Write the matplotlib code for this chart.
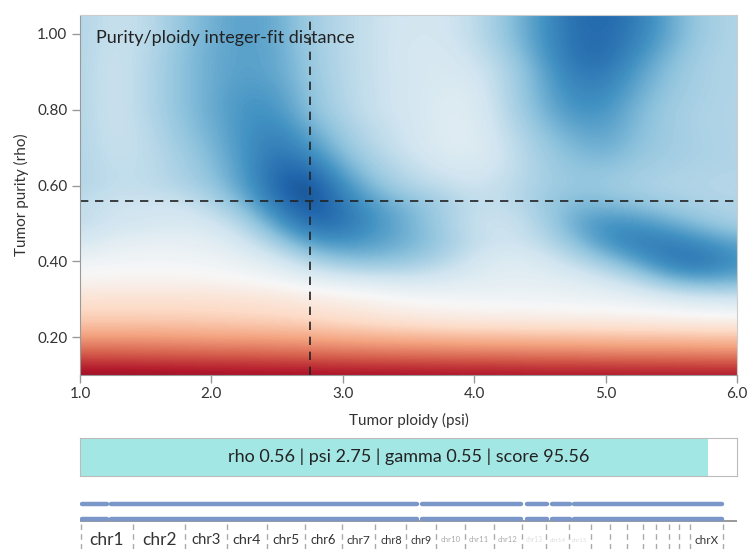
import matplotlib
matplotlib.use("Agg")
import matplotlib.pyplot as plt
import numpy as np

plt.rcParams["font.family"] = ["Lato", "DejaVu Sans"]

# ---------------------------------------------------------------------------
# Data
# ---------------------------------------------------------------------------

# grid of the purity/ploidy search
PSI = np.arange(1.0, 6.0001, 0.25)          # 21 columns
RHO = np.arange(1.05, 0.0999, -0.05)        # 20 rows, top to bottom

# integer-fit distance score (scaled, >0 blue = good fit, <0 red)
FIT = np.array([
    # 1.0  1.25  1.5  1.75  2.0  2.25  2.5  2.75  3.0  3.25  3.5  3.75  4.0  4.25  4.5  4.75  5.0  5.25  5.5  5.75  6.0
    [0.30, 0.22, 0.25, 0.38, 0.48, 0.55, 0.50, 0.35, 0.28, 0.22, 0.18, 0.18, 0.25, 0.40, 0.58, 0.76, 0.80, 0.70, 0.50, 0.35, 0.30],  # 1.05
    [0.30, 0.22, 0.25, 0.38, 0.48, 0.55, 0.50, 0.35, 0.28, 0.22, 0.18, 0.18, 0.25, 0.40, 0.58, 0.75, 0.78, 0.68, 0.50, 0.35, 0.30],  # 1.00
    [0.30, 0.21, 0.27, 0.40, 0.50, 0.55, 0.52, 0.37, 0.28, 0.22, 0.17, 0.16, 0.22, 0.35, 0.55, 0.75, 0.78, 0.62, 0.45, 0.33, 0.30],  # 0.95
    [0.30, 0.20, 0.28, 0.40, 0.50, 0.55, 0.52, 0.38, 0.28, 0.22, 0.18, 0.15, 0.18, 0.30, 0.50, 0.70, 0.72, 0.55, 0.40, 0.32, 0.30],  # 0.90
    [0.30, 0.20, 0.28, 0.40, 0.50, 0.58, 0.56, 0.40, 0.29, 0.22, 0.18, 0.14, 0.14, 0.30, 0.48, 0.65, 0.66, 0.50, 0.38, 0.32, 0.30],  # 0.85
    [0.30, 0.20, 0.28, 0.40, 0.50, 0.60, 0.60, 0.42, 0.30, 0.22, 0.18, 0.13, 0.13, 0.28, 0.45, 0.60, 0.60, 0.45, 0.35, 0.31, 0.30],  # 0.80
    [0.30, 0.21, 0.26, 0.38, 0.48, 0.60, 0.66, 0.50, 0.35, 0.25, 0.19, 0.13, 0.12, 0.25, 0.40, 0.52, 0.55, 0.43, 0.35, 0.31, 0.30],  # 0.75
    [0.30, 0.22, 0.25, 0.35, 0.45, 0.60, 0.72, 0.60, 0.40, 0.28, 0.20, 0.13, 0.12, 0.22, 0.35, 0.45, 0.50, 0.40, 0.35, 0.32, 0.30],  # 0.70
    [0.30, 0.24, 0.25, 0.32, 0.42, 0.58, 0.78, 0.75, 0.50, 0.34, 0.25, 0.18, 0.15, 0.22, 0.33, 0.40, 0.42, 0.36, 0.33, 0.31, 0.30],  # 0.65
    [0.30, 0.25, 0.25, 0.30, 0.38, 0.55, 0.80, 0.90, 0.62, 0.42, 0.30, 0.25, 0.20, 0.25, 0.33, 0.38, 0.36, 0.32, 0.30, 0.29, 0.28],  # 0.60
    [0.25, 0.20, 0.20, 0.20, 0.28, 0.45, 0.72, 0.88, 0.72, 0.55, 0.45, 0.35, 0.25, 0.25, 0.35, 0.45, 0.45, 0.40, 0.35, 0.32, 0.30],  # 0.55
    [0.25, 0.20, 0.18, 0.15, 0.18, 0.30, 0.55, 0.78, 0.75, 0.60, 0.48, 0.35, 0.22, 0.20, 0.30, 0.50, 0.62, 0.60, 0.50, 0.40, 0.32],  # 0.50
    [0.18, 0.10, 0.08, 0.08, 0.10, 0.18, 0.35, 0.55, 0.60, 0.55, 0.48, 0.38, 0.25, 0.20, 0.25, 0.40, 0.60, 0.70, 0.70, 0.62, 0.52],  # 0.45
    [0.05, 0.03, 0.03, 0.03, 0.04, 0.08, 0.15, 0.30, 0.40, 0.42, 0.38, 0.30, 0.18, 0.12, 0.15, 0.25, 0.38, 0.55, 0.72, 0.75, 0.62],  # 0.40
    [-0.02, -0.03, -0.03, -0.03, -0.02, 0.00, 0.03, 0.08, 0.12, 0.15, 0.18, 0.15, 0.12, 0.10, 0.10, 0.12, 0.18, 0.28, 0.45, 0.52, 0.48],  # 0.35
    [-0.15, -0.15, -0.15, -0.15, -0.15, -0.14, -0.12, -0.09, -0.06, -0.03, 0.00, 0.02, 0.03, 0.04, 0.04, 0.05, 0.06, 0.08, 0.12, 0.16, 0.18],  # 0.30
    [-0.24, -0.24, -0.24, -0.24, -0.23, -0.22, -0.21, -0.19, -0.16, -0.13, -0.10, -0.08, -0.07, -0.06, -0.06, -0.05, -0.05, -0.04, -0.03, -0.02, -0.02],  # 0.25
    [-0.42, -0.42, -0.42, -0.41, -0.40, -0.40, -0.39, -0.38, -0.36, -0.35, -0.34, -0.33, -0.32, -0.32, -0.31, -0.31, -0.30, -0.30, -0.30, -0.29, -0.29],  # 0.20
    [-0.63, -0.63, -0.62, -0.62, -0.61, -0.61, -0.60, -0.59, -0.58, -0.57, -0.56, -0.56, -0.55, -0.55, -0.54, -0.54, -0.53, -0.53, -0.53, -0.52, -0.52],  # 0.15
    [-0.88, -0.88, -0.88, -0.87, -0.87, -0.86, -0.86, -0.86, -0.85, -0.85, -0.85, -0.84, -0.84, -0.84, -0.83, -0.83, -0.83, -0.82, -0.82, -0.82, -0.82],  # 0.10
])

BEST_RHO = 0.56
BEST_PSI = 2.75
BEST_GAMMA = 0.55
BEST_SCORE = 95.56

X_TICKS = [1.0, 2.0, 3.0, 4.0, 5.0, 6.0]
Y_TICKS = [0.20, 0.40, 0.60, 0.80, 1.00]

# chromosome layout (Mb)
CHROMS = ["chr1", "chr2", "chr3", "chr4", "chr5", "chr6", "chr7", "chr8", "chr9",
          "chr10", "chr11", "chr12", "chr13", "chr14", "chr15", "chr16", "chr17",
          "chr18", "chr19", "chr20", "chr21", "chr22", "chrX"]
CHROM_LEN = [249, 243, 198, 191, 181, 171, 159, 146, 141, 136, 135, 134, 115,
             107, 103, 90, 81, 78, 59, 63, 48, 51, 155]

# copy-number segments (genome coordinate, Mb)
SEG_START = [6, 142, 1610, 2106, 2224, 2332]
SEG_END = [124, 1588, 2082, 2204, 2312, 3028]

# ---------------------------------------------------------------------------
# Figure
# ---------------------------------------------------------------------------

W, H = 750, 549
fig = plt.figure(figsize=(W / 100, H / 100), dpi=100)


def px_axes(left, top, right, bottom):
    return fig.add_axes([left / W, 1 - bottom / H, (right - left) / W, (bottom - top) / H])


TEXT = "#333333"

# --- heatmap ---------------------------------------------------------------
ax = px_axes(80, 15, 737, 375)
dx = (PSI[1] - PSI[0]) / 2
dy = abs(RHO[1] - RHO[0]) / 2
ax.imshow(FIT, cmap="RdBu", vmin=-1, vmax=1, aspect="auto", interpolation="bicubic",
          extent=[PSI[0] - dx, PSI[-1] + dx, RHO[-1] - dy, RHO[0] + dy], origin="upper")
ax.set_xlim(1.0, 6.0)
ax.set_ylim(0.10, 1.05)
ax.axvline(BEST_PSI, color="#222222", linestyle=(0, (5, 4)), linewidth=1.2)
ax.axhline(BEST_RHO, color="#222222", linestyle=(0, (5, 4)), linewidth=1.2)

ax.set_xticks(X_TICKS)
ax.set_xticklabels([f"{v:.1f}" for v in X_TICKS])
ax.set_yticks(Y_TICKS)
ax.set_yticklabels([f"{v:.2f}" for v in Y_TICKS])
ax.tick_params(direction="out", length=6, width=1, color="#999999",
               labelsize=11, labelcolor=TEXT, pad=3)
for side in ["left", "bottom"]:
    ax.spines[side].set_color("#999999")
for side in ["top", "right"]:
    ax.spines[side].set_color("#cccccc")
ax.set_xlabel("Tumor ploidy (psi)", fontsize=11, color=TEXT, labelpad=8)
ax.set_ylabel("Tumor purity (rho)", fontsize=11, color=TEXT, labelpad=6)
ax.text(0.024, 0.936, "Purity/ploidy integer-fit distance", transform=ax.transAxes,
        fontsize=13, color="#222222", ha="left", va="center")

# --- fit summary bar -------------------------------------------------------
bx = px_axes(80, 438, 737, 476)
bx.barh([0], [BEST_SCORE], height=1.0, left=0, color="#a3e7e4")
bx.set_xlim(0, 100)
bx.set_ylim(-0.5, 0.5)
bx.set_xticks([])
bx.set_yticks([])
for s in bx.spines.values():
    s.set_color("#bbbbbb")
bx.text(50, 0, f"rho {BEST_RHO:.2f} | psi {BEST_PSI:.2f} | gamma {BEST_GAMMA:.2f} | score {BEST_SCORE:.2f}",
        ha="center", va="center", fontsize=13, color="#222222")

# --- genome track ----------------------------------------------------------
gx = px_axes(80, 495, 737, 549)
gx.set_xlim(-3, 3100)
gx.set_ylim(0, 54)
gx.axis("off")
px_per_mb = 657 / 3103

bounds = np.concatenate([[0], np.cumsum(CHROM_LEN)])
gx.plot([-3, 3100], [28, 28], color="#888888", linewidth=1.2, zorder=1)
for y in [45, 30]:
    for s, e in zip(SEG_START, SEG_END):
        gx.plot([s, e], [y, y], color="#7b96c8", linewidth=3.2, solid_capstyle="round", zorder=2)

for b in bounds:
    gx.plot([b, b], [0, 27], color="#aaaaaa", linewidth=1, linestyle=(0, (4, 3)), zorder=1)

# labels shrink to fit their chromosome, and fade out when too small
for name, start, length in zip(CHROMS, bounds[:-1], CHROM_LEN):
    em = 1.39 + 0.58 * (len(name) - 3)
    size = 0.7 * length * px_per_mb / em * 0.72
    size = min(size, 12.5)
    if size >= 6.5:
        col = TEXT
    elif size >= 5.2:
        col = "#aaaaaa"
    elif size >= 4.1:
        col = "#dddddd"
    else:
        continue
    gx.text(start + length / 2, 9, name, ha="center", va="center", fontsize=size, color=col)

fig.savefig("out.png", dpi=100)
